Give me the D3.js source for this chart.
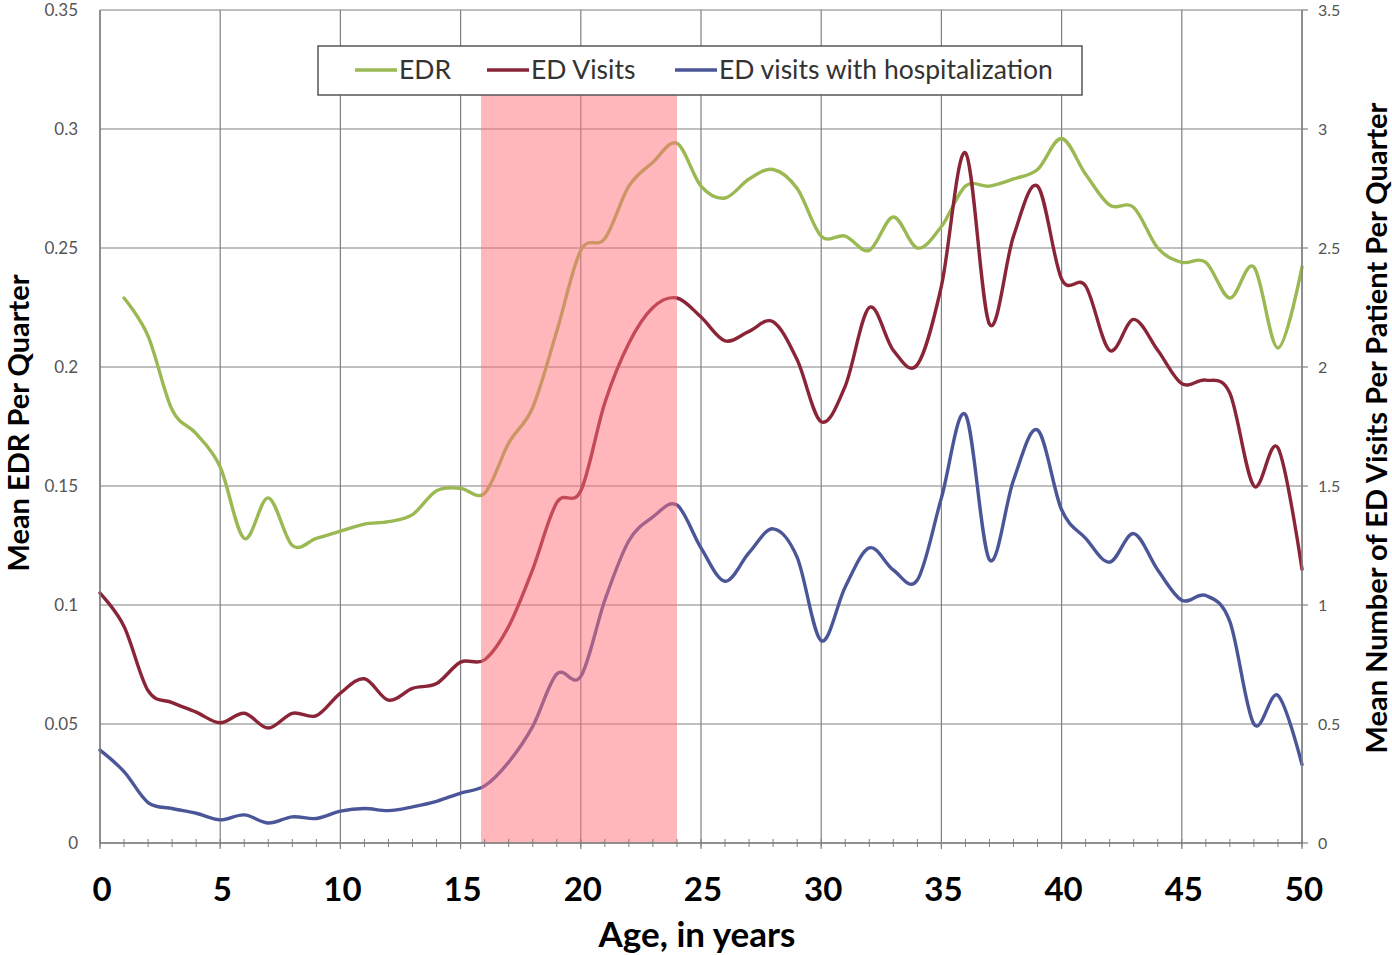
<!DOCTYPE html>
<html>
<head>
<meta charset="utf-8">
<script src="https://cdn.jsdelivr.net/npm/d3@7"></script>
<style>
  body { margin: 0; background: #fff; }
  svg { display: block; }
</style>
</head>
<body>
<svg id="chart" width="1392" height="955"></svg>
<script>
// Age in years (x axis)
const ages = d3.range(0, 51);

// Mean EDR per quarter (left axis); no value at age 0
const edr = [null, 0.229, 0.213, 0.182, 0.172, 0.158, 0.128, 0.145, 0.125, 0.128,
  0.131, 0.134, 0.135, 0.138, 0.148, 0.149, 0.147, 0.168, 0.183, 0.215,
  0.249, 0.254, 0.276, 0.286, 0.294, 0.276, 0.271, 0.279, 0.283, 0.275,
  0.255, 0.255, 0.249, 0.263, 0.250, 0.259, 0.276, 0.276, 0.279, 0.283,
  0.296, 0.281, 0.268, 0.267, 0.250, 0.244, 0.244, 0.229, 0.242, 0.208, 0.242];

// Mean number of ED visits per patient per quarter (right axis)
const edVisits = [1.05, 0.91, 0.64, 0.59, 0.55, 0.505, 0.545, 0.483, 0.545, 0.535,
  0.63, 0.69, 0.60, 0.65, 0.67, 0.76, 0.77, 0.91, 1.15, 1.43,
  1.48, 1.85, 2.10, 2.25, 2.29, 2.21, 2.11, 2.15, 2.19, 2.03,
  1.77, 1.92, 2.25, 2.07, 2.01, 2.34, 2.90, 2.18, 2.55, 2.76,
  2.37, 2.34, 2.07, 2.20, 2.07, 1.93, 1.945, 1.89, 1.50, 1.66, 1.15];

// ED visits that ended in hospitalization (right axis)
const edHosp = [0.39, 0.30, 0.17, 0.145, 0.125, 0.097, 0.118, 0.084, 0.11, 0.103,
  0.134, 0.145, 0.136, 0.152, 0.175, 0.21, 0.24, 0.34, 0.49, 0.71,
  0.70, 1.02, 1.27, 1.37, 1.42, 1.24, 1.10, 1.22, 1.32, 1.20,
  0.85, 1.076, 1.24, 1.147, 1.105, 1.45, 1.80, 1.19, 1.525, 1.735,
  1.40, 1.28, 1.18, 1.30, 1.147, 1.02, 1.04, 0.93, 0.50, 0.62, 0.33];

// Axis ticks
const xTicks = [0, 5, 10, 15, 20, 25, 30, 35, 40, 45, 50];
const leftTicks = [0, 0.05, 0.1, 0.15, 0.2, 0.25, 0.3, 0.35];
const rightTicks = [0, 0.5, 1, 1.5, 2, 2.5, 3, 3.5];

// Highlighted transition-age band (years) and its height on the EDR axis
const bandAges = [15.85, 24];
const bandTop = 0.315;

const seriesNames = ["EDR", "ED Visits", "ED visits with hospitalization"];
const seriesColors = ["#9bb953", "#8a2537", "#4b5698"];

const svg = d3.select("#chart");
const W = 1392, H = 955;
const m = { top: 10, right: 90, bottom: 112, left: 100 };
const pw = W - m.left - m.right, ph = H - m.top - m.bottom;

const x = d3.scaleLinear().domain([0, 50]).range([m.left, m.left + pw]);
const yL = d3.scaleLinear().domain([0, 0.35]).range([m.top + ph, m.top]);
const yR = d3.scaleLinear().domain([0, 3.5]).range([m.top + ph, m.top]);

const gridColor = "#808080";
const font = "Lato, 'Open Sans', sans-serif";

// Horizontal gridlines
svg.append("g").selectAll("line").data(leftTicks).join("line")
  .attr("x1", m.left).attr("x2", m.left + pw)
  .attr("y1", d => yL(d)).attr("y2", d => yL(d))
  .attr("stroke", gridColor).attr("stroke-width", 1.2);

// Vertical gridlines every 5 years
svg.append("g").selectAll("line").data(xTicks).join("line")
  .attr("x1", d => x(d)).attr("x2", d => x(d))
  .attr("y1", m.top).attr("y2", m.top + ph + 6)
  .attr("stroke", gridColor).attr("stroke-width", 1.2);

// Series lines
const curve = d3.curveCatmullRom.alpha(0);
const series = [
  { vals: edr, y: yL },
  { vals: edVisits, y: yR },
  { vals: edHosp, y: yR }
];
series.forEach((s, i) => {
  const line = d3.line()
    .defined((d, j) => s.vals[j] != null)
    .x((d, j) => x(ages[j]))
    .y((d, j) => s.y(s.vals[j]))
    .curve(curve);
  svg.append("path").datum(s.vals)
    .attr("d", line)
    .attr("fill", "none")
    .attr("stroke", seriesColors[i])
    .attr("stroke-width", 3.4)
    .attr("stroke-linejoin", "round")
    .attr("stroke-linecap", "round");
});

// Transition band drawn over the lines
svg.append("rect")
  .attr("x", x(bandAges[0]))
  .attr("width", x(bandAges[1]) - x(bandAges[0]))
  .attr("y", yL(bandTop))
  .attr("height", yL(0) - yL(bandTop))
  .attr("fill", "#ff6f7a")
  .attr("fill-opacity", 0.5);

// Bottom axis with minor yearly ticks
const xAxis = svg.append("g").attr("transform", `translate(0,${yL(0)})`);
xAxis.append("line").attr("x1", m.left).attr("x2", m.left + pw)
  .attr("stroke", gridColor).attr("stroke-width", 1.4);
xAxis.selectAll(".minor").data(ages).join("line")
  .attr("class", "minor")
  .attr("x1", d => x(d)).attr("x2", d => x(d))
  .attr("y1", -4).attr("y2", 4)
  .attr("stroke", gridColor).attr("stroke-width", 1);
xAxis.selectAll("text").data(xTicks).join("text")
  .attr("x", d => x(d) + 2).attr("y", 58)
  .attr("text-anchor", "middle")
  .attr("font-family", font).attr("font-weight", 700).attr("font-size", 33)
  .attr("fill", "#000")
  .text(d => d);

// Left axis
svg.append("line").attr("x1", m.left).attr("x2", m.left)
  .attr("y1", m.top).attr("y2", m.top + ph)
  .attr("stroke", gridColor).attr("stroke-width", 1.4);
svg.append("g").selectAll("text").data(leftTicks).join("text")
  .attr("x", m.left - 22).attr("y", d => yL(d) + 6)
  .attr("text-anchor", "end")
  .attr("font-family", font).attr("font-size", 17).attr("fill", "#555")
  .text(d => d);

// Right axis
svg.append("line").attr("x1", m.left + pw).attr("x2", m.left + pw)
  .attr("y1", m.top).attr("y2", m.top + ph)
  .attr("stroke", gridColor).attr("stroke-width", 1.4);
svg.append("g").selectAll("line").data(rightTicks).join("line")
  .attr("x1", m.left + pw).attr("x2", m.left + pw + 6)
  .attr("y1", d => yR(d)).attr("y2", d => yR(d))
  .attr("stroke", gridColor).attr("stroke-width", 1.2);
svg.append("g").selectAll("text").data(rightTicks).join("text")
  .attr("x", m.left + pw + 16).attr("y", d => yR(d) + 6)
  .attr("text-anchor", "start")
  .attr("font-family", font).attr("font-size", 16).attr("fill", "#555")
  .text(d => d);

// Axis titles
svg.append("text")
  .attr("x", m.left + pw / 2 - 4).attr("y", 947)
  .attr("text-anchor", "middle")
  .attr("font-family", font).attr("font-weight", 700).attr("font-size", 35)
  .attr("fill", "#000")
  .text("Age, in years");
svg.append("text")
  .attr("transform", `translate(29,${423}) rotate(-90)`)
  .attr("text-anchor", "middle")
  .attr("font-family", font).attr("font-weight", 700).attr("font-size", 29)
  .attr("fill", "#000")
  .text("Mean EDR Per Quarter");
svg.append("text")
  .attr("transform", `translate(1387,${428}) rotate(-90)`)
  .attr("text-anchor", "middle")
  .attr("font-family", font).attr("font-weight", 700).attr("font-size", 29)
  .attr("fill", "#000")
  .text("Mean Number of ED Visits Per Patient Per Quarter");

// Legend
const lg = svg.append("g");
lg.append("rect")
  .attr("x", 318).attr("y", 46).attr("width", 764).attr("height", 49)
  .attr("fill", "#fff").attr("stroke", "#555").attr("stroke-width", 1.5);
const legendX = [355, 487, 675];
seriesNames.forEach((name, i) => {
  lg.append("line")
    .attr("x1", legendX[i]).attr("x2", legendX[i] + 42)
    .attr("y1", 70).attr("y2", 70)
    .attr("stroke", seriesColors[i]).attr("stroke-width", 3.4);
  lg.append("text")
    .attr("x", legendX[i] + 44).attr("y", 79)
    .attr("font-family", font).attr("font-size", 26.5).attr("fill", "#333")
    .text(name);
});
</script>
</body>
</html>
